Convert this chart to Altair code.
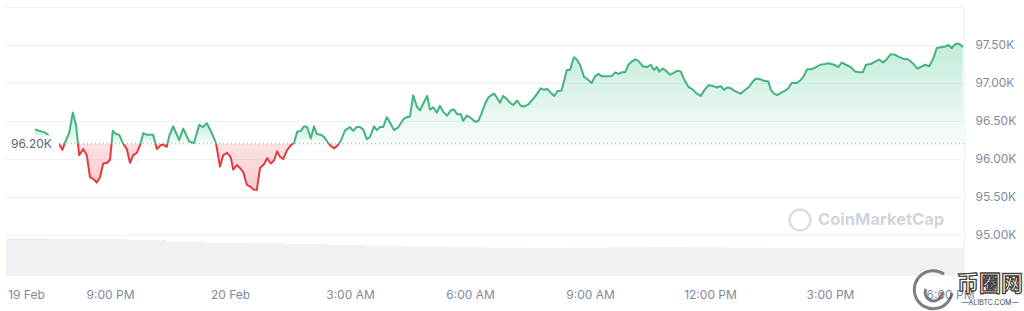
import altair as alt
import pandas as pd

BASE = 96.20  # reference (open) price, K USD

# time in hours relative to 20 Feb 00:00, price in K USD
hours = [-4.88, -4.63, -4.27, -4.19, -4.13, -4.02, -3.93, -3.85, -3.77, -3.67,
         -3.58, -3.50, -3.40, -3.33, -3.25, -3.17, -3.07, -3.00, -2.93, -2.85,
         -2.77, -2.68, -2.58, -2.50, -2.42, -2.33, -2.23, -2.17, -2.08, -1.92,
         -1.83, -1.73, -1.67, -1.58, -1.52, -1.42, -1.27, -1.17, -1.02,
         -0.90, -0.77, -0.68, -0.58, -0.48, -0.35, -0.25, -0.17, -0.07, 0.02,
         0.08, 0.17, 0.25, 0.33, 0.42, 0.50, 0.58, 0.67, 0.75, 0.85,
         0.93, 1.02, 1.10, 1.18, 1.25, 1.33, 1.43, 1.52, 1.60, 1.68,
         1.77, 1.85, 1.93, 2.02, 2.10, 2.17, 2.27, 2.35, 2.43, 2.52,
         2.60, 2.68, 2.77, 2.88, 3.00,
         3.08, 3.17, 3.25, 3.33, 3.42, 3.50, 3.60, 3.67, 3.75, 3.83,
         3.92, 4.00, 4.10, 4.21, 4.33, 4.42, 4.50, 4.58, 4.67, 4.75,
         4.85, 4.93, 5.00, 5.08, 5.17, 5.25, 5.33, 5.43, 5.52, 5.60,
         5.68, 5.77, 5.83, 5.92, 6.02, 6.13, 6.21, 6.29, 6.38, 6.46,
         6.54, 6.60, 6.67, 6.75, 6.83, 6.92, 7.00,
         7.08, 7.18, 7.27, 7.35, 7.46, 7.58, 7.68, 7.77, 7.85, 7.93,
         8.04, 8.11, 8.18, 8.29, 8.42, 8.50, 8.60, 8.67, 8.75, 8.85,
         8.96, 9.04, 9.13, 9.21, 9.29, 9.42, 9.54, 9.63, 9.71, 9.79,
         9.88, 9.96, 10.04, 10.13, 10.21, 10.32, 10.42, 10.52, 10.60, 10.67,
         10.73, 10.82, 10.90, 11.00,
         11.08, 11.18, 11.27, 11.35, 11.46, 11.58, 11.67, 11.77, 11.85, 11.96,
         12.07, 12.17, 12.27, 12.35, 12.43, 12.52, 12.63, 12.77, 12.88, 12.98,
         13.07, 13.15, 13.25, 13.35, 13.46, 13.52, 13.60, 13.68, 13.77, 13.88,
         13.96, 14.04, 14.17, 14.27, 14.33, 14.43, 14.54, 14.65, 14.75, 14.88,
         14.96,
         15.10, 15.21, 15.29, 15.40, 15.52, 15.63, 15.73, 15.82, 15.90, 16.02,
         16.13, 16.23, 16.33, 16.43, 16.52, 16.63, 16.73, 16.83, 16.96, 17.07,
         17.18, 17.27, 17.38, 17.48, 17.58, 17.67, 17.77, 17.88, 17.96, 18.04,
         18.13, 18.21, 18.27, 18.32]

prices = [96.39, 96.35, 96.19, 96.12, 96.21, 96.34, 96.61, 96.45, 96.05, 96.13,
          96.05, 95.76, 95.73, 95.69, 95.76, 95.94, 95.95, 95.99, 96.37, 96.33,
          96.32, 96.21, 96.13, 95.95, 96.05, 96.08, 96.21, 96.34, 96.32, 96.32,
          96.13, 96.18, 96.19, 96.16, 96.30, 96.43, 96.25, 96.40, 96.23,
          96.21, 96.45, 96.42, 96.47, 96.37, 96.21, 95.90, 96.05, 96.08, 96.02,
          95.86, 95.92, 95.88, 95.83, 95.66, 95.64, 95.60, 95.59, 95.88, 95.93,
          96.01, 95.94, 95.98, 96.10, 96.03, 96.00, 96.12, 96.18, 96.21, 96.36,
          96.37, 96.43, 96.42, 96.27, 96.43, 96.33, 96.32, 96.29, 96.23, 96.17,
          96.14, 96.17, 96.24, 96.38, 96.42,
          96.37, 96.42, 96.42, 96.39, 96.26, 96.29, 96.43, 96.38, 96.42, 96.42,
          96.55, 96.48, 96.38, 96.42, 96.52, 96.55, 96.56, 96.84, 96.69, 96.64,
          96.75, 96.83, 96.65, 96.68, 96.61, 96.70, 96.62, 96.57, 96.64, 96.65,
          96.59, 96.59, 96.50, 96.57, 96.54, 96.49, 96.50, 96.60, 96.73, 96.81,
          96.84, 96.86, 96.81, 96.74, 96.83, 96.79, 96.74,
          96.71, 96.77, 96.70, 96.69, 96.72, 96.79, 96.86, 96.93, 96.91, 96.92,
          96.86, 96.83, 96.89, 96.90, 97.17, 97.17, 97.34, 97.31, 97.24, 97.08,
          97.04, 97.00, 97.09, 97.12, 97.09, 97.09, 97.09, 97.14, 97.12, 97.14,
          97.14, 97.24, 97.28, 97.31, 97.29, 97.22, 97.21, 97.24, 97.17, 97.21,
          97.15, 97.19, 97.16, 97.11,
          97.13, 97.16, 97.15, 97.05, 96.95, 96.91, 96.86, 96.83, 96.90, 96.97,
          96.96, 96.94, 96.96, 96.91, 96.94, 96.93, 96.89, 96.86, 96.91, 96.95,
          97.02, 97.06, 97.05, 97.03, 97.02, 96.91, 96.86, 96.84, 96.87, 96.90,
          96.93, 97.00, 97.00, 97.04, 97.08, 97.18, 97.18, 97.21, 97.24, 97.25,
          97.26,
          97.24, 97.21, 97.27, 97.24, 97.21, 97.15, 97.14, 97.14, 97.24, 97.25,
          97.28, 97.31, 97.27, 97.32, 97.38, 97.37, 97.34, 97.32, 97.31, 97.26,
          97.19, 97.21, 97.24, 97.22, 97.32, 97.46, 97.47, 97.48, 97.50, 97.46,
          97.51, 97.52, 97.50, 97.47]

# 24h volume (B USD), sampled hourly
vol_hours = [-5.6, -4.6, -3.6, -2.6, -1.6, -0.6, 0.4, 1.4, 2.4, 3.4, 4.4, 5.4, 6.4,
             7.4, 8.4, 9.4, 10.4, 11.4, 12.4, 13.4, 14.4, 15.4, 16.4, 17.4, 18.4]
vol_values = [37.7, 37.5, 37.0, 36.0, 34.5, 33.5, 32.7, 32.0, 31.0, 30.0, 29.3, 28.7, 28.3,
              28.0, 28.3, 28.7, 29.0, 28.7, 28.3, 28.0, 28.0, 28.0, 27.7, 27.7, 27.7]

tick_hours = [-5.1, -3, 0, 3, 6, 9, 12, 15, 18]
tick_labels = ["19 Feb", "9:00 PM", "20 Feb", "3:00 AM", "6:00 AM",
               "9:00 AM", "12:00 PM", "3:00 PM", "6:00 PM"]
y_ticks = [95.0, 95.5, 96.0, 96.5, 97.0, 97.5, 98.0]

GREEN = "#43b47f"
RED = "#e03c42"
AXIS_GRAY = "#808a9d"
FONT = "Inter"

# ---- split the series into runs above / below the base price ----
pts = []
for i in range(len(hours)):
    if i > 0:
        h0, p0, h1, p1 = hours[i - 1], prices[i - 1], hours[i], prices[i]
        if (p0 - BASE) * (p1 - BASE) < 0:
            t = (BASE - p0) / (p1 - p0)
            pts.append((h0 + t * (h1 - h0), BASE))
    pts.append((hours[i], prices[i]))

rows = []
seg = 0
cur = None
pending = None
for h, p in pts:
    s = "up" if p > BASE else ("down" if p < BASE else None)
    if s is None:
        if cur is not None:
            rows.append(dict(h=h, p=p, seg=seg, kind=cur))
        seg += 1
        cur = None
        pending = (h, p)
        continue
    if cur is None:
        if pending is not None:
            rows.append(dict(h=pending[0], p=pending[1], seg=seg, kind=s))
            pending = None
        cur = s
    elif s != cur:
        seg += 1
        cur = s
    rows.append(dict(h=h, p=p, seg=seg, kind=s))

df = pd.DataFrame(rows)
df["base"] = BASE
base_df = pd.DataFrame({"base": [BASE], "label": [f"{BASE:.2f}K"]})
vol_df = pd.DataFrame({"h": vol_hours, "vol": vol_values})

# ---- encodings ----
label_expr = ""
for th, tl in zip(tick_hours, tick_labels):
    label_expr += f"abs(datum.value - ({th})) < 0.01 ? '{tl}' : "
label_expr += "''"

x_scale = alt.Scale(domain=[-5.625, 18.35], nice=False, zero=False)
x_axis = alt.Axis(values=tick_hours, labelExpr=label_expr, title=None, grid=False,
                  domain=False, ticks=False, labelPadding=13, labelFontSize=12,
                  labelFont=FONT, labelColor=AXIS_GRAY, labelFlush=False,
                  labelOverlap=False)
y_scale = alt.Scale(domain=[94.46, 98.0], nice=False, zero=False)
y_axis = alt.Axis(orient="right", values=y_ticks,
                  labelExpr="datum.value > 97.9 ? '' : format(datum.value, '.2f') + 'K'",
                  title=None, grid=True, gridColor="#eef1f5", gridWidth=1,
                  domain=True, domainColor="#eef1f5", ticks=False,
                  labelPadding=11, labelAlign="left", labelFontSize=12,
                  labelFont=FONT, labelColor=AXIS_GRAY)

def xe(field="h"):
    return alt.X(f"{field}:Q", scale=x_scale, axis=x_axis)

def ye(field):
    return alt.Y(f"{field}:Q", scale=y_scale, axis=y_axis)

green_grad = alt.Gradient(
    gradient="linear",
    stops=[alt.GradientStop(color="rgba(22,180,110,0.26)", offset=0),
           alt.GradientStop(color="rgba(22,180,110,0.03)", offset=1)],
    x1=0, x2=0, y1=0, y2=1)
red_grad = alt.Gradient(
    gradient="linear",
    stops=[alt.GradientStop(color="rgba(234,57,67,0.15)", offset=0),
           alt.GradientStop(color="rgba(234,57,67,0.25)", offset=1)],
    x1=0, x2=0, y1=0, y2=1)

up = alt.Chart(df).transform_filter("datum.kind == 'up'")
down = alt.Chart(df).transform_filter("datum.kind == 'down'")

up_area = up.mark_area(color=green_grad).encode(
    x=xe(), y=ye("p"), y2=alt.Y2("base:Q"), detail="seg:N")
down_area = down.mark_area(color=red_grad).encode(
    x=xe(), y=ye("p"), y2=alt.Y2("base:Q"), detail="seg:N")

baseline = alt.Chart(base_df).mark_rule(
    color="#9aa3b2", strokeDash=[1, 3], strokeWidth=1).encode(y=ye("base"))

up_line = up.mark_line(color=GREEN, strokeWidth=2, strokeJoin="round").encode(
    x=xe(), y=ye("p"), detail="seg:N")
down_line = down.mark_line(color=RED, strokeWidth=2, strokeJoin="round").encode(
    x=xe(), y=ye("p"), detail="seg:N")

label_box = alt.Chart(base_df).mark_rule(color="white", strokeWidth=17).encode(
    y=ye("base"), x=alt.value(2), x2=alt.value(54))
label_text = alt.Chart(base_df).mark_text(
    align="left", baseline="middle", font=FONT, fontSize=12, color="#58667e").encode(
    y=ye("base"), x=alt.value(6), text="label:N")

wm_text = alt.Chart(base_df).mark_text(
    text="CoinMarketCap", align="left", baseline="middle", font=FONT,
    fontSize=16.5, fontWeight="bold", color="#d0d5dc").encode(
    x=alt.value(813), y=alt.value(213))
wm_logo = alt.Chart(base_df).mark_point(
    shape="circle", filled=False, size=440, strokeWidth=2.6, color="#d0d5dc").encode(
    x=alt.value(795), y=alt.value(213))

price_layer = alt.layer(up_area, down_area, baseline, up_line, down_line,
                        label_box, label_text, wm_text, wm_logo)

vol = alt.Chart(vol_df).mark_area(interpolate="step-after", color="#f0f1f4", clip=True).encode(
    x=xe(), y=alt.Y("vol:Q", scale=alt.Scale(domain=[0, 269], nice=False), axis=None))

# bottom-right site watermark
swirl = alt.Chart(base_df).mark_point(
    shape="M 0.55 -0.8 A 0.95 0.95 0 1 0 0.95 0.15 M -0.35 -0.05 A 0.42 0.42 0 1 0 0.45 0.1",
    filled=False, size=1600, strokeWidth=3, color="#4a4a4a").encode(
    x=alt.value(928), y=alt.value(283))
wm_cn = alt.Chart(base_df).mark_text(
    text="币圈网", align="center", baseline="middle", font="Noto Sans CJK SC",
    fontSize=22, fontWeight="bold", color="#ffffff", stroke="#454545", strokeWidth=1.3).encode(
    x=alt.value(985), y=alt.value(277))
wm_en = alt.Chart(base_df).mark_text(
    text="—ALIBTC.COM—", align="center", baseline="middle", font=FONT,
    fontSize=7, color="#454545").encode(
    x=alt.value(985), y=alt.value(296))

chart = alt.layer(vol, price_layer, swirl, wm_cn, wm_en).resolve_scale(
    y="independent").properties(
    width=959, height=269,
    padding={"left": 5, "top": 7, "right": 60, "bottom": 35},
    autosize="none", background="white"
).configure_view(strokeWidth=0)

chart.save("out.html", embed_options={"renderer": "svg", "actions": False})
